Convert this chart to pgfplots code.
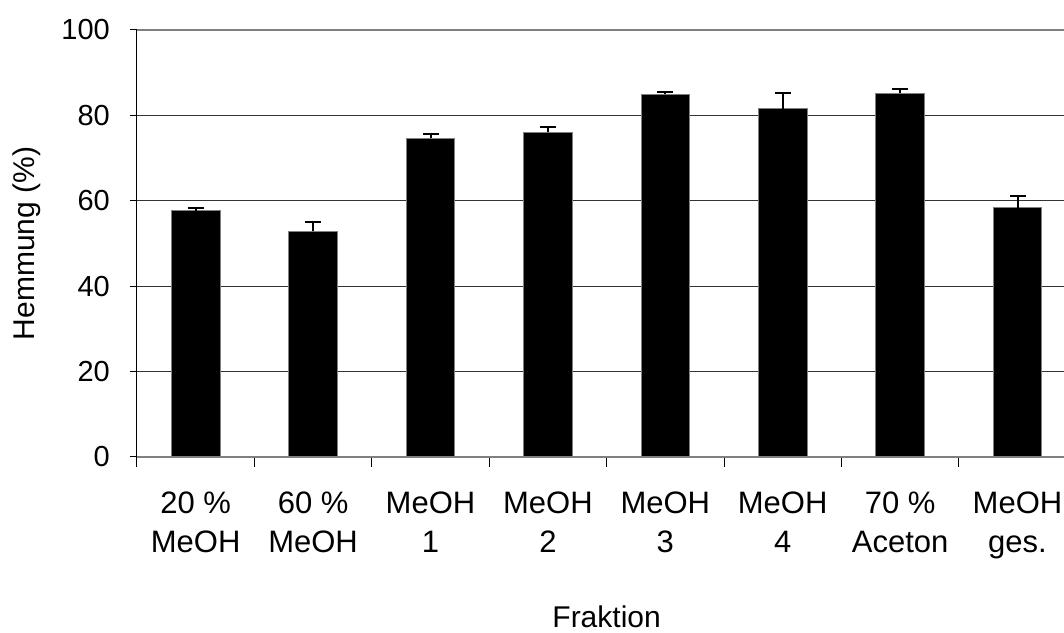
\documentclass[border=0pt]{standalone}
\usepackage{pgfplots}
\pgfplotsset{compat=1.18}
\usepackage{fontspec}
\setmainfont{Liberation Sans}
\begin{document}
\begin{tikzpicture}
\begin{axis}[
  scale only axis, width=939.2pt, height=426.7pt,
  xmin=0, xmax=8, ymin=0, ymax=100,
  axis lines*=left,
  x axis line style={draw=gray, line width=2pt},
  y axis line style={draw=black, line width=1pt},
  ybar, bar width=48.6pt,
  xtick={0.5,1.5,...,7.5},
  xticklabels={{20 \%\\MeOH},{60 \%\\MeOH},{MeOH\\1},{MeOH\\2},{MeOH\\3},{MeOH\\4},{70 \%\\Aceton},{MeOH\\ges.}},
  major x tick style={draw=none},
  minor xtick={0,1,...,8},
  minor x tick style={draw=black, line width=1pt},
  tick align=outside,
  minor tick length=10pt,
  major tick length=7pt,
  ytick={0,20,...,80},
  extra y ticks={100},
  extra y tick style={major grid style={draw=gray, line width=2pt}},
  y tick style={draw=black, line width=1pt},
  ymajorgrids,
  major grid style={draw=black!80, line width=1pt},
  /pgf/number format/assume math mode=true,
  yticklabel style={font=\fontsize{29}{34}\selectfont, anchor=east, inner sep=0pt, xshift=-20pt},
  xticklabel style={font=\fontsize{31}{39.3}\selectfont, align=center, anchor=north, inner sep=0pt, yshift=-28pt},
  xlabel={Fraktion},
  ylabel={Hemmung (\%)},
  xlabel style={font=\fontsize{30}{36}\selectfont, at={(axis description cs:0.5,-0.3757)}, anchor=center},
  ylabel style={font=\fontsize{30}{36}\selectfont, at={(axis description cs:-0.1171,0.5)}, anchor=center},
]
\addplot[fill=black, draw=gray, line width=0.8pt,
  error bars/.cd, y dir=plus, y explicit,
  error bar style={line width=2pt, black},
  error mark options={rotate=90, mark size=8pt, line width=2pt, black}]
  coordinates {
  (0.5,57.65) +- (0,0.65)
  (1.5,52.8) +- (0,2.3)
  (2.5,74.6) +- (0,1.0)
  (3.5,76.0) +- (0,1.3)
  (4.5,84.9) +- (0,0.5)
  (5.5,81.6) +- (0,3.6)
  (6.5,85.2) +- (0,1.0)
  (7.5,58.4) +- (0,2.6)
  };
\end{axis}
\pgfresetboundingbox
\path[use as bounding box] (-137pt,-175.3pt) rectangle (927pt,456.7pt);
\end{tikzpicture}
\end{document}
